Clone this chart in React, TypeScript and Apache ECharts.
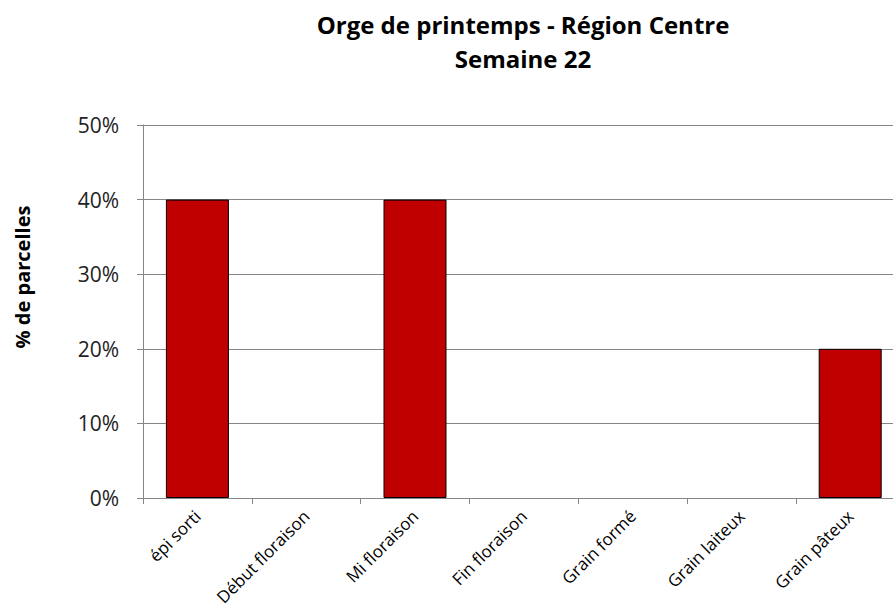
import React, { useEffect, useRef } from "react";
import * as echarts from "echarts";

const categories = [
  "épi sorti",
  "Début floraison",
  "Mi floraison",
  "Fin floraison",
  "Grain formé",
  "Grain laiteux",
  "Grain pâteux",
];
const values = [0.4, 0, 0.4, 0, 0, 0, 0.2];
const titleLines = ["Orge de printemps - Région Centre", "Semaine 22"];
const yAxisName = "% de parcelles";

const FONT = "'Open Sans', 'Liberation Sans', sans-serif";

// layout: the category band is 108.8px wide, plot starts at x=143 and is cut by the page edge
const GRID_LEFT = 143;
const GRID_WIDTH = 750;
const BAND_PX = 108.8;
const X_MIN = -0.5;
const X_MAX = X_MIN + GRID_WIDTH / BAND_PX;

export default function App() {
  const ref = useRef<HTMLDivElement>(null);
  useEffect(() => {
    if (!ref.current) return;
    const chart = echarts.init(ref.current, undefined, { renderer: "svg" });
    const tickValues = categories.map((_, i) => i - 0.5);
    const labelValues = categories.map((_, i) => i);
    chart.setOption({
      animation: false,
      backgroundColor: "#ffffff",
      textStyle: { fontFamily: FONT },
      graphic: [
        {
          type: "text",
          x: 523,
          y: 24,
          style: {
            text: titleLines[0],
            font: `bold 24px ${FONT}`,
            fill: "#000",
            align: "center",
            verticalAlign: "middle",
          },
        },
        {
          type: "text",
          x: 523,
          y: 58,
          style: {
            text: titleLines[1],
            font: `bold 24px ${FONT}`,
            fill: "#000",
            align: "center",
            verticalAlign: "middle",
          },
        },
        {
          type: "text",
          x: 22,
          y: 277,
          rotation: Math.PI / 2,
          style: {
            text: yAxisName,
            font: `bold 20px ${FONT}`,
            fill: "#000",
            align: "center",
            verticalAlign: "middle",
          },
        },
      ],
      grid: {
        left: GRID_LEFT,
        top: 125,
        width: GRID_WIDTH,
        height: 373,
        containLabel: false,
      },
      xAxis: {
        type: "value",
        min: X_MIN,
        max: X_MAX,
        axisLine: { show: true, onZero: false, lineStyle: { color: "#868686", width: 1 } },
        axisTick: {
          show: true,
          length: 6,
          lineStyle: { color: "#868686" },
          customValues: tickValues,
        },
        axisLabel: {
          rotate: 45,
          margin: 15,
          fontSize: 17,
          color: "#000",
          fontFamily: FONT,
          customValues: labelValues,
          formatter: (v: number) => categories[Math.round(v)] ?? "",
        },
        splitLine: { show: false },
      },
      yAxis: {
        type: "value",
        min: 0,
        max: 0.5,
        interval: 0.1,
        axisLine: { show: true, onZero: false, lineStyle: { color: "#868686", width: 1 } },
        axisTick: { show: true, length: 6, lineStyle: { color: "#868686" } },
        axisLabel: {
          formatter: (v: number) => `${Math.round(v * 100)}%`,
          fontSize: 21,
          color: "#222",
          margin: 24,
          fontFamily: FONT,
        },
        splitLine: { show: true, lineStyle: { color: "#868686", width: 1 } },
      },
      series: [
        {
          type: "bar",
          barWidth: 63,
          data: values.map((v, i) => ({
            value: [i, v],
            itemStyle: v === 0 ? { borderWidth: 0 } : undefined,
          })),
          itemStyle: { color: "#C00000", borderColor: "#000", borderWidth: 1 },
        },
      ],
    });
    return () => chart.dispose();
  }, []);
  return <div ref={ref} style={{ position: "absolute", left: 0, top: 0, width: 893, height: 613 }} />;
}
